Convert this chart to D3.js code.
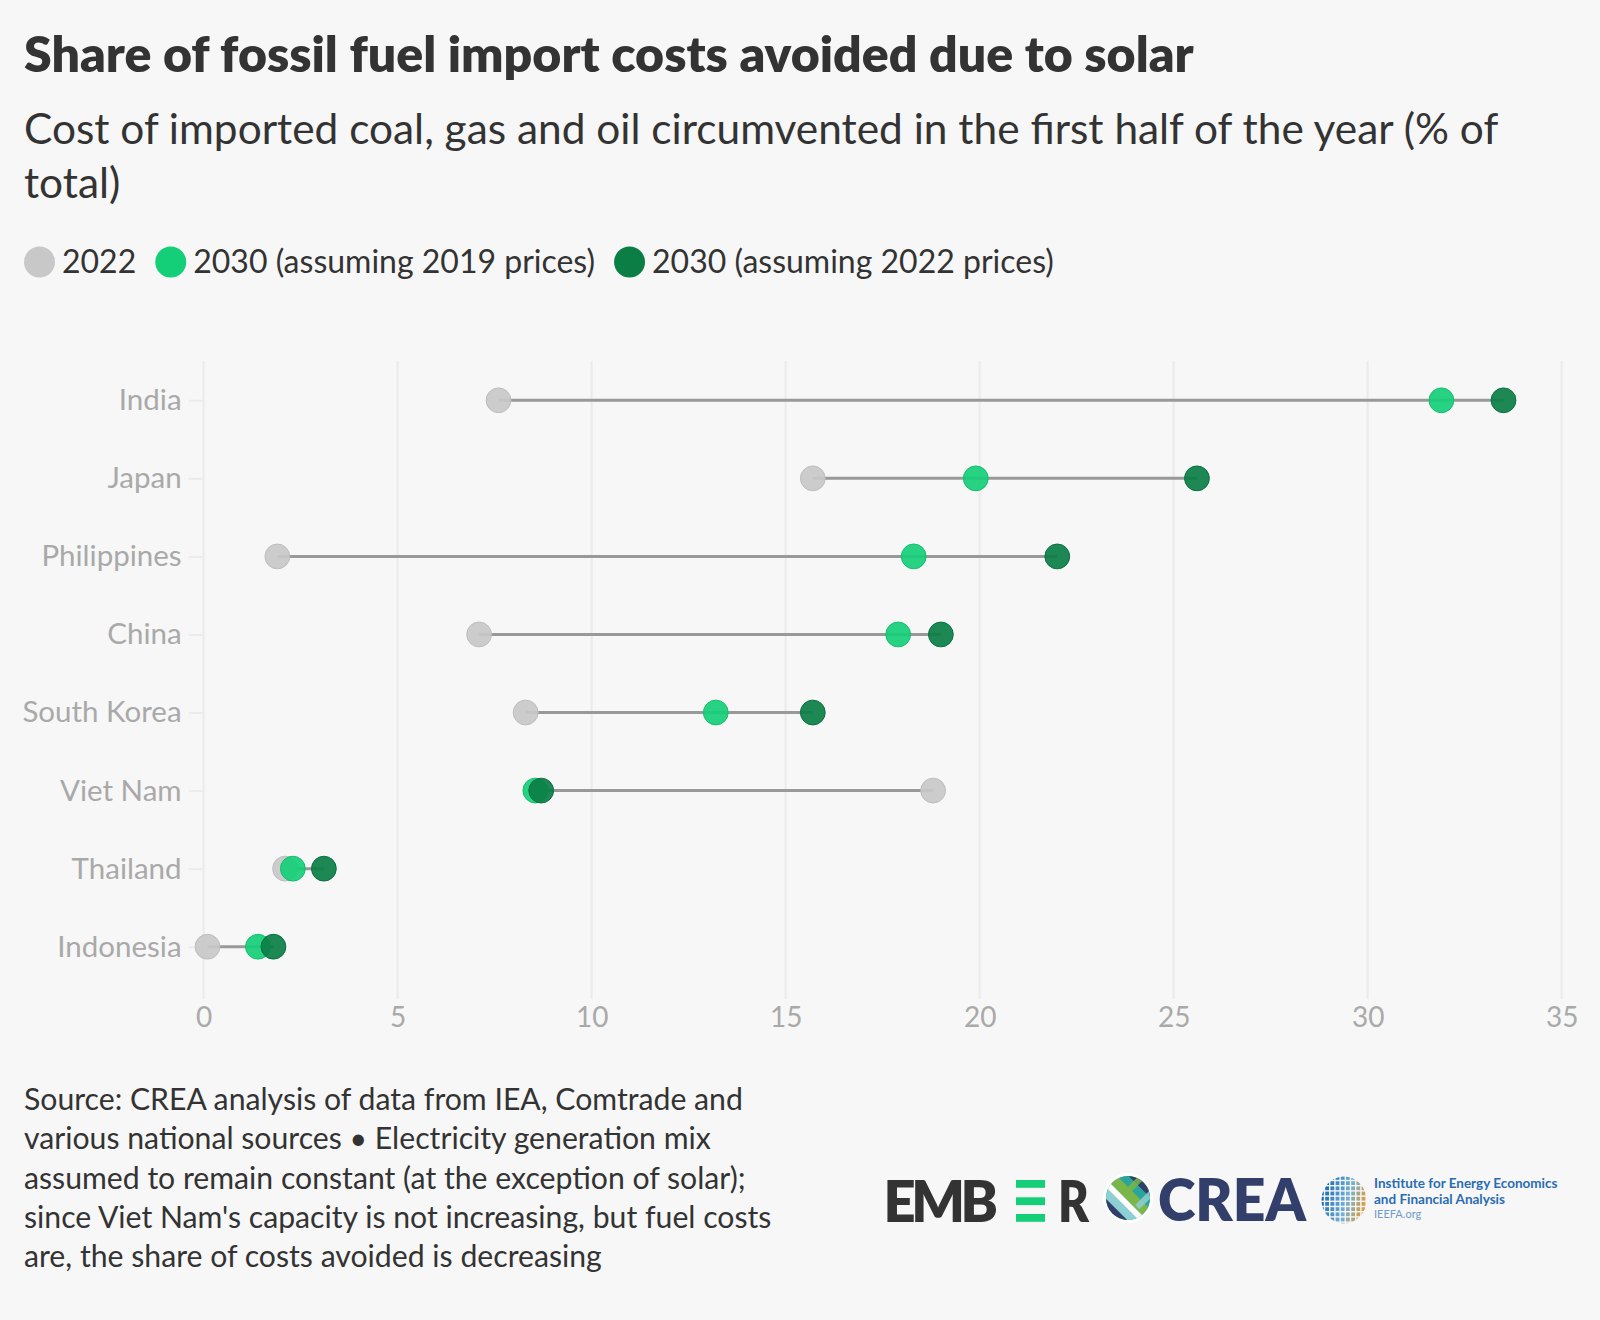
<!DOCTYPE html>
<html>
<head>
<meta charset="utf-8">
<script src="https://cdn.jsdelivr.net/npm/d3@7"></script>
<style>
  html, body { margin: 0; padding: 0; background: #f7f7f7; }
  svg { display: block; }
  text { font-family: Lato, "Noto Sans", sans-serif; }
</style>
</head>
<body>
<svg id="chart" width="1600" height="1320"></svg>
<script>
// ---------------- data ----------------
const countries = ["India", "Japan", "Philippines", "China", "South Korea", "Viet Nam", "Thailand", "Indonesia"];
const share2022 = [7.6, 15.7, 1.9, 7.1, 8.3, 18.8, 2.1, 0.1];
const share2030At2019Prices = [31.9, 19.9, 18.3, 17.9, 13.2, 8.55, 2.3, 1.4];
const share2030At2022Prices = [33.5, 25.6, 22.0, 19.0, 15.7, 8.7, 3.1, 1.8];
const seriesNames = ["2022", "2030 (assuming 2019 prices)", "2030 (assuming 2022 prices)"];
const xTickValues = [0, 5, 10, 15, 20, 25, 30, 35];
const titleText = "Share of fossil fuel import costs avoided due to solar";
const subtitleLines = ["Cost of imported coal, gas and oil circumvented in the first half of the year (% of", "total)"];
const sourceLines = [
  "Source: CREA analysis of data from IEA, Comtrade and",
  "various national sources \u2022 Electricity generation mix",
  "assumed to remain constant (at the exception of solar);",
  "since Viet Nam's capacity is not increasing, but fuel costs",
  "are, the share of costs avoided is decreasing"
];

// ---------------- styles ----------------
const colors = ["#c8c8c8", "#15cf78", "#0b7e45"];
const strokes = ["#bdbdbd", "#10c06c", "#087040"];
const textDark = "#333333";
const axisGrey = "#a9a9a9";

const svg = d3.select("#chart");
svg.append("rect").attr("width", 1600).attr("height", 1320).attr("fill", "#f7f7f7");

// title
svg.append("text").attr("x", 24).attr("y", 72)
  .attr("font-size", 50).attr("font-weight", 800).attr("fill", textDark)
  .text(titleText);

// subtitle
const sub = svg.append("text").attr("font-size", 42.4).attr("fill", textDark);
subtitleLines.forEach((l, i) => sub.append("tspan").attr("x", 24).attr("y", 144 + i * 54).text(l));

// legend
const legend = svg.append("g").attr("transform", "translate(24,262)");
let lx = 0;
seriesNames.forEach((name, i) => {
  const g = legend.append("g").attr("transform", `translate(${lx},0)`);
  g.append("circle").attr("cx", 15.5).attr("cy", 0).attr("r", 15.5).attr("fill", colors[i]);
  const t = g.append("text").attr("x", 38).attr("y", 0).attr("dy", "0.35em")
    .attr("font-size", 32).attr("fill", textDark).text(name);
  lx += 38 + t.node().getComputedTextLength() + 19;
});

// scales
const x = d3.scaleLinear().domain([0, 35]).range([203.6, 1561.7]);
const y = d3.scalePoint().domain(countries).range([400.3, 946.7]);
const gridTop = 361, gridBottom = 999;

// grid
svg.append("g").selectAll("line").data(xTickValues).join("line")
  .attr("x1", d => x(d)).attr("x2", d => x(d))
  .attr("y1", gridTop).attr("y2", gridBottom)
  .attr("stroke", "#ebebeb").attr("stroke-width", 2);

// x axis labels
const xAxis = d3.axisBottom(x).tickValues(xTickValues).tickSize(0).tickPadding(0).tickFormat(d3.format("d"));
const xg = svg.append("g").attr("transform", `translate(0,${gridBottom})`).call(xAxis);
xg.select(".domain").remove();
xg.selectAll("text").attr("font-size", 28).attr("fill", axisGrey)
  .attr("font-family", "Lato, sans-serif").attr("y", 28).attr("dy", 0);

// y axis
const yAxis = d3.axisLeft(y).tickSize(14).tickPadding(7);
const yg = svg.append("g").attr("transform", `translate(${x(0) - 1},0)`).call(yAxis);
yg.select(".domain").remove();
yg.selectAll(".tick line").attr("stroke", "#ebebeb").attr("stroke-width", 2);
yg.selectAll("text").attr("font-size", 29.5).attr("fill", axisGrey).attr("font-family", "Lato, sans-serif");

// connecting lines
const rows = countries.map((c, i) => ({
  c, vals: [share2022[i], share2030At2019Prices[i], share2030At2022Prices[i]]
}));
svg.append("g").selectAll("line").data(rows).join("line")
  .attr("x1", d => x(d3.min(d.vals))).attr("x2", d => x(d3.max(d.vals)))
  .attr("y1", d => y(d.c)).attr("y2", d => y(d.c))
  .attr("stroke", "#999999").attr("stroke-width", 3);

// dots
[share2022, share2030At2019Prices, share2030At2022Prices].forEach((arr, s) => {
  svg.append("g").selectAll("circle").data(arr).join("circle")
    .attr("cx", d => x(d)).attr("cy", (d, i) => y(countries[i]))
    .attr("r", 12.4)
    .attr("fill", colors[s]).attr("fill-opacity", 0.92)
    .attr("stroke", strokes[s]).attr("stroke-width", 1);
});

// source
const src = svg.append("text").attr("font-size", 30.2).attr("fill", textDark);
sourceLines.forEach((l, i) => src.append("tspan").attr("x", 24).attr("y", 1110 + i * 39.3).text(l));

// ---------------- logos ----------------
const logo = svg.append("g");
const logoFont = "Inter, 'DejaVu Sans', sans-serif";
// EMBER
logo.append("text").attr("x", 883.6).attr("y", 1222).attr("font-size", 56)
  .attr("font-family", logoFont).attr("font-weight", 800).attr("fill", "#333333")
  .attr("textLength", 114.5).attr("lengthAdjust", "spacing").text("EMB");
logo.append("text").attr("x", 1058).attr("y", 1222).attr("font-size", 56)
  .attr("font-family", logoFont).attr("font-weight", 800).attr("fill", "#333333")
  .attr("textLength", 31).attr("lengthAdjust", "spacingAndGlyphs").text("R");
[1180, 1197.3, 1214].forEach(by => {
  logo.append("rect").attr("x", 1016).attr("y", by).attr("width", 29).attr("height", 7.8).attr("fill", "#15cf78");
});
// CREA emblem
const defs = svg.append("defs");
defs.append("clipPath").attr("id", "creaClip").append("circle").attr("cx", 1128).attr("cy", 1198).attr("r", 22);
logo.append("circle").attr("cx", 1128).attr("cy", 1198).attr("r", 25).attr("fill", "#ffffff");
const crea = logo.append("g").attr("clip-path", "url(#creaClip)");
crea.append("rect").attr("x", 1104).attr("y", 1174).attr("width", 48).attr("height", 48).attr("fill", "#2aa59c");
const stripeG = crea.append("g").attr("transform", "rotate(-45 1128 1198)");
[["#333f6b", -26, 10], ["#8ecfd4", -16, 8], ["#ffffff", -8, 6], ["#7ab648", -2, 10], ["#2aa59c", 8, 8], ["#333f6b", 16, 10]].forEach(([c, off, w]) => {
  stripeG.append("rect").attr("x", 1128 + off).attr("y", 1160).attr("width", w).attr("height", 76).attr("fill", c);
});
const stripeG2 = crea.append("g").attr("transform", "rotate(45 1128 1198)");
[["#7ab648", -8, 6], ["#8ecfd4", 10, 6]].forEach(([c, off, w]) => {
  stripeG2.append("rect").attr("x", 1128 + off).attr("y", 1160).attr("width", w).attr("height", 38).attr("fill", c).attr("opacity", 0.85);
});
logo.append("text").attr("x", 1158).attr("y", 1221).attr("font-size", 58)
  .attr("font-family", logoFont).attr("font-weight", 800)
  .attr("fill", "#333f6b").attr("textLength", 148).attr("lengthAdjust", "spacingAndGlyphs").text("CREA");
// IEEFA globe
defs.append("clipPath").attr("id", "globeClip").append("ellipse").attr("cx", 1344).attr("cy", 1200).attr("rx", 22.5).attr("ry", 23.5);
const globe = logo.append("g").attr("clip-path", "url(#globeClip)");
const gcol = d3.scaleLinear().domain([1320, 1344, 1368]).range(["#1f6fb5", "#6fb0d8", "#f39a1e"]);
d3.range(1320, 1368, 5.2).forEach(gx => {
  d3.range(1176, 1225, 5.2).forEach(gy => {
    globe.append("rect").attr("x", gx).attr("y", gy).attr("width", 3.8).attr("height", 3.8)
      .attr("fill", gcol(gx + (gy - 1200) * 0.3));
  });
});
const ieefa = logo.append("g").attr("font-family", "Roboto, 'Noto Sans', sans-serif");
ieefa.append("text").attr("x", 1374).attr("y", 1188).attr("font-size", 13.5).attr("font-weight", 700).attr("fill", "#2a6cb3").text("Institute for Energy Economics");
ieefa.append("text").attr("x", 1374).attr("y", 1204).attr("font-size", 13.5).attr("font-weight", 700).attr("fill", "#2a6cb3").text("and Financial Analysis");
ieefa.append("text").attr("x", 1374).attr("y", 1218).attr("font-size", 11).attr("fill", "#6f9ccc").text("IEEFA.org");
</script>
</body>
</html>
